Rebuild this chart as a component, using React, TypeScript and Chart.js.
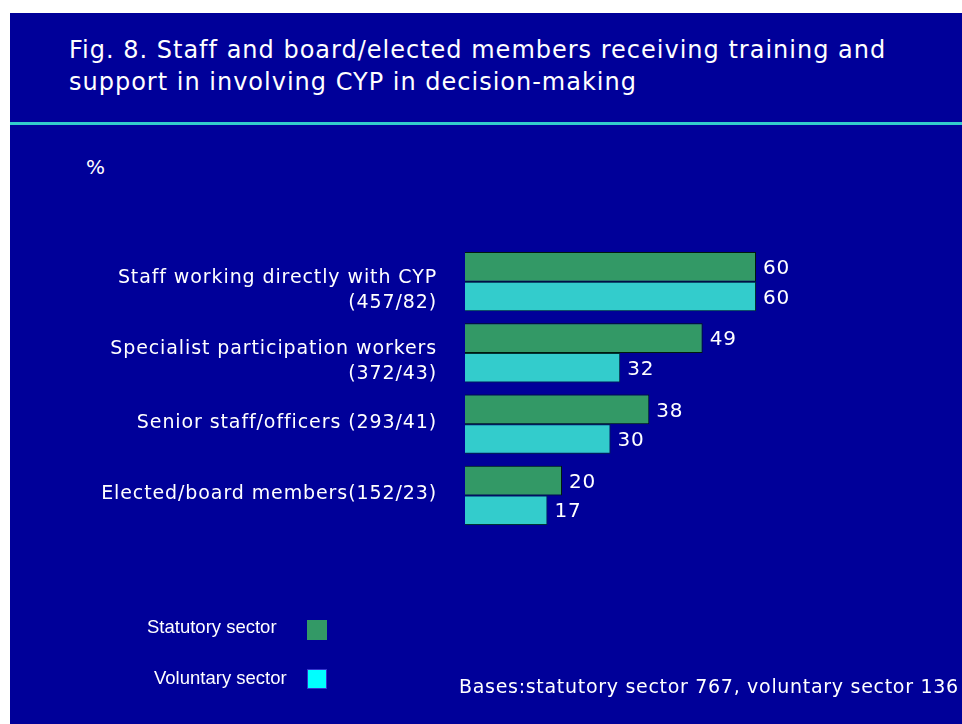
import React, { useEffect, useRef } from "react";
import { Chart, registerables } from "chart.js";

Chart.register(...registerables);

const categories: string[][] = [
  ["Staff working directly with CYP", "(457/82)"],
  ["Specialist participation workers", "(372/43)"],
  ["Senior staff/officers (293/41)"],
  ["Elected/board members(152/23)"],
];
const statutory = [60, 49, 38, 20];
const voluntary = [60, 32, 30, 17];
const seriesNames = ["Statutory sector", "Voluntary sector"];
const titleLines = [
  "Fig. 8. Staff and board/elected members receiving training and",
  "support in involving CYP in decision-making",
];
const basesNote = "Bases:statutory sector 767, voluntary sector 136";

const BG = "#000099";
const GREEN = "#339966";
const CYAN = "#33CCCC";

const valueLabels = {
  id: "valueLabels",
  afterDatasetsDraw(chart: any) {
    const ctx = chart.ctx;
    ctx.save();
    (ctx as any).letterSpacing = "0.8px";
    ctx.fillStyle = "#ffffff";
    ctx.font = "20px 'DejaVu Sans'";
    ctx.textAlign = "left";
    ctx.textBaseline = "middle";
    chart.data.datasets.forEach((ds: any, di: number) => {
      const meta = chart.getDatasetMeta(di);
      meta.data.forEach((bar: any, i: number) => {
        ctx.fillText(String(ds.data[i]), bar.x + 7, bar.y + 2);
      });
    });
    ctx.restore();
  },
};

const categoryLabels = {
  id: "categoryLabels",
  afterDraw(chart: any) {
    const ctx = chart.ctx;
    const y = chart.scales.y;
    const right = chart.chartArea.left - 29;
    ctx.save();
    (ctx as any).letterSpacing = "0.9px";
    ctx.fillStyle = "#ffffff";
    ctx.font = "19px 'DejaVu Sans'";
    ctx.textAlign = "right";
    ctx.textBaseline = "middle";
    (chart.data.labels as string[][]).forEach((lines, i) => {
      const cy = y.getPixelForValue(i);
      const start = lines.length > 1 ? cy - 4 : cy - 1;
      lines.forEach((line, j) => {
        ctx.fillText(line, right + 1, start + j * 25);
      });
    });
    ctx.restore();
  },
};

export default function App() {
  const ref = useRef<HTMLCanvasElement>(null);
  useEffect(() => {
    document.body.style.margin = "0";
    const chart = new Chart(ref.current!, {
      type: "bar",
      data: {
        labels: categories,
        datasets: [
          {
            label: seriesNames[0],
            data: statutory,
            backgroundColor: GREEN,
            borderColor: "#001a0d",
            borderWidth: 1,
          },
          {
            label: seriesNames[1],
            data: voluntary,
            backgroundColor: CYAN,
            borderColor: "#003333",
            borderWidth: 1,
          },
        ],
      },
      options: {
        indexAxis: "y",
        animation: false,
        responsive: false,
        maintainAspectRatio: false,
        layout: { padding: { left: 0, right: 12, top: 246, bottom: 193 } },
        datasets: { bar: { categoryPercentage: 0.83, barPercentage: 1 } },
        scales: {
          x: { display: false, min: 0, max: 100 },
          y: {
            grid: { display: false, drawTicks: false },
            border: { display: false },
            afterFit: (scale: any) => {
              scale.width = 465;
            },
            ticks: { display: false },
          },
        },
        plugins: {
          legend: { display: false },
          tooltip: { enabled: false },
        },
      },
      plugins: [valueLabels, categoryLabels],
    });
    return () => chart.destroy();
  }, []);

  const textFont = "'DejaVu Sans', sans-serif";
  const legendFont = "'Liberation Sans', Arial, sans-serif";
  return (
    <div style={{ position: "fixed", left: 0, top: 0, width: 962, height: 724, background: "#ffffff", overflow: "hidden" }}>
      <div style={{ position: "absolute", left: 10, top: 13, width: 952, height: 711, background: BG }} />
      <div style={{ position: "absolute", left: 10, top: 122, width: 952, height: 3, background: CYAN }} />
      <div
        style={{
          position: "absolute",
          left: 69,
          top: 34,
          color: "#ffffff",
          fontFamily: textFont,
          fontSize: 24,
          lineHeight: "32px",
          letterSpacing: "1px",
          whiteSpace: "nowrap",
        }}
      >
        {titleLines.map((t, i) => (
          <div key={i}>{t}</div>
        ))}
      </div>
      <div style={{ position: "absolute", left: 86, top: 155, color: "#ffffff", fontFamily: textFont, fontSize: 20 }}>%</div>
      <canvas ref={ref} width={962} height={724} style={{ position: "absolute", left: 0, top: 0 }} />
      <div style={{ position: "absolute", left: 147, top: 616, color: "#ffffff", fontFamily: legendFont, fontSize: 18.5, whiteSpace: "nowrap" }}>
        {seriesNames[0]}
      </div>
      <div style={{ position: "absolute", left: 307, top: 620, width: 20, height: 20, background: GREEN }} />
      <div style={{ position: "absolute", left: 154, top: 667, color: "#ffffff", fontFamily: legendFont, fontSize: 18.5, whiteSpace: "nowrap" }}>
        {seriesNames[1]}
      </div>
      <div style={{ position: "absolute", left: 307, top: 669, width: 20, height: 20, background: "#00ffff", boxSizing: "border-box", border: "1px solid #3333cc" }} />
      <div style={{ position: "absolute", left: 459, top: 675, color: "#ffffff", fontFamily: textFont, fontSize: 19, letterSpacing: "0.7px", whiteSpace: "nowrap" }}>
        {basesNote}
      </div>
    </div>
  );
}
